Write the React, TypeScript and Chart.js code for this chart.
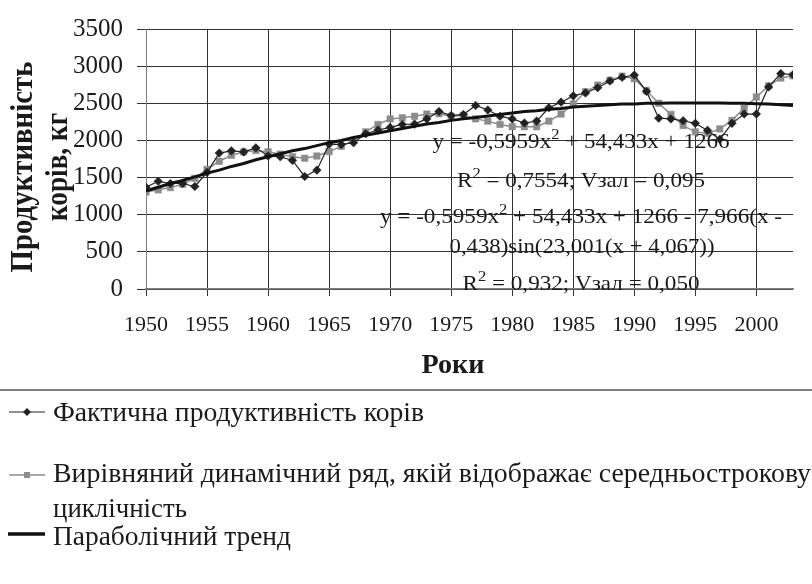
import React, { useEffect, useRef } from 'react';
import { Chart, registerables } from 'chart.js';

Chart.register(...registerables);

const YEARS = [
  1950, 1951, 1952, 1953, 1954, 1955, 1956, 1957, 1958, 1959,
  1960, 1961, 1962, 1963, 1964, 1965, 1966, 1967, 1968, 1969,
  1970, 1971, 1972, 1973, 1974, 1975, 1976, 1977, 1978, 1979,
  1980, 1981, 1982, 1983, 1984, 1985, 1986, 1987, 1988, 1989,
  1990, 1991, 1992, 1993, 1994, 1995, 1996, 1997, 1998, 1999,
  2000, 2001, 2002, 2003,
];

const ACTUAL = [
  1370, 1450, 1420, 1420, 1380, 1570, 1830, 1860, 1845, 1900,
  1790, 1780, 1730, 1515, 1600, 1950, 1945, 1970, 2090, 2140,
  2175, 2215, 2220, 2290, 2390, 2335, 2350, 2470, 2410, 2325,
  2290, 2235, 2260, 2440, 2515, 2600, 2640, 2710, 2800, 2850,
  2880, 2660, 2300, 2290, 2265, 2230, 2135, 2015, 2230, 2355,
  2355, 2720, 2900, 2885,
];

const SMOOTHED = [
  1305, 1335, 1365, 1410, 1490, 1610, 1720, 1800, 1845, 1865,
  1848, 1815, 1780, 1760, 1790, 1850, 1920, 2000, 2115, 2215,
  2290, 2305, 2325, 2355, 2360, 2325, 2335, 2290, 2260, 2215,
  2185, 2185, 2185, 2260, 2355, 2490, 2655, 2745, 2810, 2865,
  2830, 2670, 2500, 2350, 2200, 2115, 2095, 2155, 2270, 2435,
  2585, 2735, 2840, 2870,
];

const TREND = [
  1320, 1370, 1420, 1460, 1510, 1560, 1600, 1650, 1690, 1740,
  1780, 1820, 1860, 1890, 1930, 1970, 2000, 2040, 2070, 2100,
  2130, 2160, 2190, 2220, 2240, 2270, 2290, 2310, 2330, 2350,
  2370, 2390, 2400, 2420, 2430, 2450, 2460, 2470, 2480, 2490,
  2490, 2500, 2500, 2505, 2505, 2505, 2505, 2505, 2500, 2500,
  2495, 2490, 2480, 2470,
];

const SERIES_NAMES = [
  'Фактична продуктивність корів',
  'Вирівняний динамічний ряд, якій відображає середньострокову циклічність',
  'Параболічний тренд',
];

const Y_TITLE = ['Продуктивність', 'корів, кг'];
const X_TITLE = 'Роки';

const FONT = "'Liberation Serif', 'Times New Roman', serif";
const TEXT = '#1a1a1a';

type Seg = { t: string; sup?: boolean };

function drawRich(
  ctx: CanvasRenderingContext2D,
  segs: Seg[],
  fs: number,
  bold: boolean,
  x: number,
  baseline: number,
  targetW: number | null,
  align: 'center' | 'left'
) {
  const main = `${bold ? 'bold ' : ''}${fs}px ${FONT}`;
  const sup = `${bold ? 'bold ' : ''}${Math.round(fs * 0.7)}px ${FONT}`;
  let total = 0;
  const widths = segs.map((s) => {
    ctx.font = s.sup ? sup : main;
    const w = ctx.measureText(s.t).width;
    total += w;
    return w;
  });
  const sc = targetW ? targetW / total : 1;
  const startX = align === 'center' ? x - (total * sc) / 2 : x;
  ctx.save();
  ctx.translate(startX, baseline);
  ctx.scale(sc, 1);
  ctx.textAlign = 'left';
  ctx.textBaseline = 'alphabetic';
  ctx.fillStyle = TEXT;
  let xx = 0;
  segs.forEach((s, i) => {
    ctx.font = s.sup ? sup : main;
    ctx.fillText(s.t, xx, s.sup ? -fs * 0.42 : 0);
    xx += widths[i];
  });
  ctx.restore();
}

const overlayPlugin = {
  id: 'overlay',
  afterDraw(chart: any) {
    const ctx: CanvasRenderingContext2D = chart.ctx;
    ctx.save();

    // Y axis title (rotated, two lines)
    [
      { t: Y_TITLE[0], bx: 32, w: 211 },
      { t: Y_TITLE[1], bx: 67, w: 108 },
    ].forEach((l) => {
      ctx.save();
      ctx.translate(l.bx, 167);
      ctx.rotate(-Math.PI / 2);
      drawRich(ctx, [{ t: l.t }], 32, true, 0, 0, l.w, 'center');
      ctx.restore();
    });

    // X axis title
    drawRich(ctx, [{ t: X_TITLE }], 28, true, 453, 373, 63, 'center');

    // Equation annotations
    const eq = 21;
    drawRich(ctx, [{ t: 'y = -0,5959x' }, { t: '2', sup: true }, { t: ' + 54,433x + 1266' }], eq, false, 581, 148, 297, 'center');
    drawRich(ctx, [{ t: 'R' }, { t: '2', sup: true }, { t: ' = 0,7554; Vзал = 0,095' }], eq, false, 581, 187, 248, 'center');
    drawRich(ctx, [{ t: 'y = -0,5959x' }, { t: '2', sup: true }, { t: ' + 54,433x + 1266 - 7,966(x -' }], eq, false, 581, 223, 402, 'center');
    drawRich(ctx, [{ t: '0,438)sin(23,001(x + 4,067))' }], eq, false, 582, 253, 265, 'center');
    drawRich(ctx, [{ t: 'R' }, { t: '2', sup: true }, { t: ' = 0,932; Vзал = 0,050' }], eq, false, 581, 290, 237, 'center');

    // Separator line
    ctx.fillStyle = '#808080';
    ctx.fillRect(0, 389, 812, 2);

    // Legend
    const lf = 27;
    // item 1
    ctx.strokeStyle = '#222';
    ctx.lineWidth = 1.2;
    ctx.beginPath();
    ctx.moveTo(9, 412);
    ctx.lineTo(45, 412);
    ctx.stroke();
    ctx.fillStyle = '#222';
    ctx.beginPath();
    ctx.moveTo(27 - 4, 412);
    ctx.lineTo(27, 408);
    ctx.lineTo(27 + 4, 412);
    ctx.lineTo(27, 416);
    ctx.closePath();
    ctx.fill();
    drawRich(ctx, [{ t: SERIES_NAMES[0] }], lf, false, 53, 421, 371, 'left');

    // item 2
    ctx.strokeStyle = '#8c8c8c';
    ctx.lineWidth = 1.5;
    ctx.beginPath();
    ctx.moveTo(9, 475);
    ctx.lineTo(45, 475);
    ctx.stroke();
    ctx.fillStyle = '#8c8c8c';
    ctx.fillRect(24, 472, 6, 6);
    const parts = SERIES_NAMES[1].split(' циклічність');
    drawRich(ctx, [{ t: parts[0] }], lf, false, 53, 482, 758, 'left');
    drawRich(ctx, [{ t: 'циклічність' }], lf, false, 53, 517, 134, 'left');

    // item 3
    ctx.strokeStyle = '#111';
    ctx.lineWidth = 3.5;
    ctx.beginPath();
    ctx.moveTo(8, 534);
    ctx.lineTo(45, 534);
    ctx.stroke();
    drawRich(ctx, [{ t: SERIES_NAMES[2] }], lf, false, 53, 545, 238, 'left');

    ctx.restore();
  },
};

export default function App() {
  const ref = useRef<HTMLCanvasElement | null>(null);

  useEffect(() => {
    if (!ref.current) return;
    const pts = (arr: number[]) => YEARS.map((yr, i) => ({ x: yr, y: arr[i] }));
    const chart = new Chart(ref.current, {
      type: 'line',
      data: {
        datasets: [
          {
            label: SERIES_NAMES[2],
            data: pts(TREND),
            borderColor: '#111',
            borderWidth: 3,
            pointRadius: 0,
            tension: 0,
            order: 0,
          },
          {
            label: SERIES_NAMES[0],
            data: pts(ACTUAL),
            borderColor: '#222',
            backgroundColor: '#222',
            borderWidth: 1.2,
            pointStyle: 'rectRot',
            pointRadius: 4.3,
            pointBorderWidth: 0.5,
            pointBorderColor: '#222',
            pointBackgroundColor: '#222',
            tension: 0,
            order: 1,
          },
          {
            label: SERIES_NAMES[1],
            data: pts(SMOOTHED),
            borderColor: '#8c8c8c',
            backgroundColor: '#8c8c8c',
            borderWidth: 1.5,
            pointStyle: 'rect',
            pointRadius: 4.6,
            pointBorderWidth: 0.5,
            pointBorderColor: '#8c8c8c',
            pointBackgroundColor: '#8c8c8c',
            tension: 0,
            order: 2,
          },
        ],
      },
      options: {
        responsive: false,
        maintainAspectRatio: false,
        devicePixelRatio: 1,
        animation: false,
        events: [],
        layout: { padding: { top: 16, right: 19, bottom: 195, left: 0 } },
        plugins: {
          legend: { display: false },
          tooltip: { enabled: false },
        },
        scales: {
          x: {
            type: 'linear',
            min: 1950,
            max: 2003,
            afterFit: (s: any) => {
              s.height = 100;
            },
            ticks: {
              stepSize: 5,
              includeBounds: false,
              autoSkip: false,
              maxRotation: 0,
              callback: (v: any) => String(v),
              font: { family: FONT, size: 22 },
              color: TEXT,
              padding: 16,
            },
            grid: { color: '#333', lineWidth: 1, tickLength: 7 },
            border: { color: '#808080', width: 1.5 },
          },
          y: {
            min: 0,
            max: 3500,
            afterFit: (s: any) => {
              s.width = 146;
            },
            ticks: {
              stepSize: 500,
              callback: (v: any) => String(v),
              font: { family: FONT, size: 25 },
              color: TEXT,
              padding: 14,
            },
            grid: { color: '#333', lineWidth: 1, tickLength: 9 },
            border: { color: '#808080', width: 1 },
          },
        },
      },
      plugins: [overlayPlugin],
    });
    return () => chart.destroy();
  }, []);

  return (
    <div style={{ position: 'fixed', left: 0, top: 0, width: 812, height: 584, background: '#fff' }}>
      <canvas ref={ref} width={812} height={584} style={{ width: 812, height: 584, display: 'block' }} />
    </div>
  );
}
